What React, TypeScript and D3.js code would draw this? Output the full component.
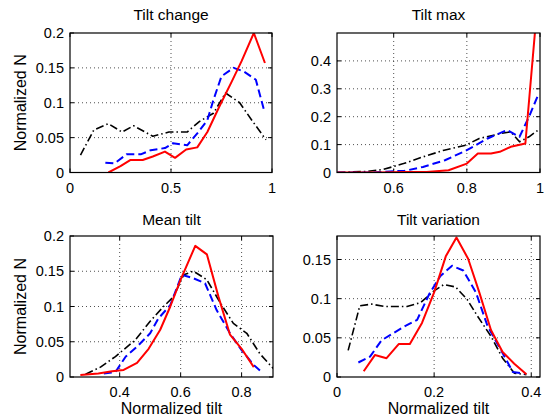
import React from "react";
import * as d3 from "d3";

type Pt = [number, number];

// Tilt change
const changeRed: Pt[] = [[0.19, 0], [0.25, 0.009], [0.3, 0.018], [0.36, 0.018], [0.41, 0.023], [0.47, 0.03], [0.52, 0.021], [0.575, 0.033], [0.63, 0.036], [0.68, 0.058], [0.74, 0.095], [0.8, 0.13], [0.85, 0.16], [0.91, 0.2], [0.965, 0.157]];
const changeBlue: Pt[] = [[0.175, 0.014], [0.22, 0.013], [0.28, 0.026], [0.35, 0.026], [0.4, 0.032], [0.47, 0.035], [0.51, 0.042], [0.58, 0.039], [0.63, 0.056], [0.68, 0.075], [0.71, 0.104], [0.75, 0.138], [0.81, 0.15], [0.86, 0.145], [0.92, 0.133], [0.96, 0.09]];
const changeBlack: Pt[] = [[0.052, 0.025], [0.118, 0.061], [0.19, 0.07], [0.257, 0.058], [0.315, 0.067], [0.41, 0.052], [0.49, 0.058], [0.58, 0.058], [0.64, 0.073], [0.71, 0.085], [0.77, 0.114], [0.84, 0.1], [0.9, 0.075], [0.97, 0.047]];

// Tilt max
const maxRed: Pt[] = [[0.446, 0], [0.56, 0], [0.63, 0.002], [0.69, 0.002], [0.75, 0.008], [0.8, 0.032], [0.83, 0.068], [0.866, 0.068], [0.89, 0.074], [0.92, 0.092], [0.96, 0.104], [0.99, 0.56]];
const maxBlue: Pt[] = [[0.446, 0], [0.54, 0], [0.59, 0.004], [0.63, 0.006], [0.68, 0.02], [0.74, 0.044], [0.8, 0.08], [0.857, 0.122], [0.91, 0.152], [0.944, 0.128], [0.97, 0.2], [0.995, 0.278]];
const maxBlack: Pt[] = [[0.446, 0], [0.527, 0.004], [0.572, 0.011], [0.627, 0.032], [0.68, 0.056], [0.738, 0.08], [0.797, 0.098], [0.834, 0.122], [0.894, 0.14], [0.92, 0.146], [0.944, 0.11], [0.97, 0.128], [0.995, 0.152]];

// Mean tilt
const meanRed: Pt[] = [[0.271, 0.003], [0.33, 0.005], [0.375, 0.008], [0.413, 0.01], [0.457, 0.02], [0.495, 0.04], [0.533, 0.067], [0.566, 0.1], [0.6, 0.138], [0.648, 0.186], [0.686, 0.174], [0.724, 0.114], [0.762, 0.06], [0.8, 0.04], [0.84, 0.014]];
const meanBlue: Pt[] = [[0.348, 0.005], [0.386, 0.007], [0.42, 0.029], [0.457, 0.043], [0.5, 0.062], [0.527, 0.083], [0.566, 0.102], [0.604, 0.145], [0.642, 0.14], [0.68, 0.133], [0.718, 0.095], [0.762, 0.062], [0.8, 0.038], [0.84, 0.017], [0.866, 0.007]];
const meanBlack: Pt[] = [[0.288, 0.004], [0.337, 0.014], [0.386, 0.029], [0.45, 0.052], [0.5, 0.079], [0.544, 0.1], [0.577, 0.114], [0.61, 0.145], [0.642, 0.15], [0.686, 0.138], [0.73, 0.105], [0.773, 0.076], [0.817, 0.062], [0.86, 0.033], [0.904, 0.012]];

// Tilt variation
const varRed: Pt[] = [[0.055, 0.0073], [0.078, 0.028], [0.102, 0.024], [0.127, 0.042], [0.15, 0.042], [0.175, 0.069], [0.2, 0.108], [0.224, 0.154], [0.246, 0.178], [0.27, 0.151], [0.293, 0.108], [0.317, 0.06], [0.341, 0.032], [0.365, 0.017], [0.39, 0.0034]];
const varBlue: Pt[] = [[0.044, 0.0185], [0.068, 0.026], [0.092, 0.047], [0.116, 0.056], [0.14, 0.065], [0.165, 0.073], [0.19, 0.106], [0.213, 0.129], [0.237, 0.142], [0.26, 0.136], [0.286, 0.108], [0.31, 0.065], [0.338, 0.034], [0.362, 0.0065], [0.386, 0.004]];
const varBlack: Pt[] = [[0.023, 0.034], [0.047, 0.091], [0.071, 0.093], [0.099, 0.09], [0.12, 0.09], [0.144, 0.09], [0.172, 0.095], [0.2, 0.11], [0.22, 0.118], [0.244, 0.115], [0.268, 0.099], [0.289, 0.078], [0.317, 0.052], [0.341, 0.024], [0.365, 0.005], [0.39, 0.003]];

const titles = ["Tilt change", "Tilt max", "Mean tilt", "Tilt variation"];
const xTicksAll = [[0, 0.5, 1], [0.6, 0.8, 1], [0.4, 0.6, 0.8], [0, 0.2, 0.4]];
const yTicksAll = [[0, 0.05, 0.1, 0.15, 0.2], [0, 0.1, 0.2, 0.3, 0.4], [0, 0.05, 0.1, 0.15, 0.2], [0, 0.05, 0.1, 0.15]];
const xDomains: Pt[] = [[0, 1], [0.445, 1], [0.237, 0.903], [0, 0.418]];
const yDomains: Pt[] = [[0, 0.2], [0, 0.5], [0, 0.2], [0, 0.18]];

const panels = [
  { series: [changeBlack, changeBlue, changeRed], box: [70, 33, 272, 172.5], xl: false, yl: true, tOff: 13 },
  { series: [maxBlack, maxBlue, maxRed], box: [337, 33, 540, 172.5], xl: false, yl: false, tOff: 13 },
  { series: [meanBlack, meanBlue, meanRed], box: [70, 236, 273, 377], xl: true, yl: true, tOff: 11 },
  { series: [varBlack, varBlue, varRed], box: [337, 236, 540, 377], xl: true, yl: false, tOff: 11 },
];

const styles = [
  { stroke: "#000", dash: "8,3,1.5,3", w: 1.6 },
  { stroke: "#0000ff", dash: "8,4", w: 2 },
  { stroke: "#ff0000", dash: null, w: 2 },
];

const font = "'Liberation Sans', Arial, Helvetica, sans-serif";

function Panel({ idx }: { idx: number }) {
  const p = panels[idx];
  const [x0, y0, x1, y1] = p.box;
  const x = d3.scaleLinear().domain(xDomains[idx]).range([x0, x1]);
  const y = d3.scaleLinear().domain(yDomains[idx]).range([y1, y0]);
  const line = d3.line<Pt>().x(d => x(d[0])).y(d => y(d[1]));
  const clipId = `clip${idx}`;
  return (
    <g>
      <clipPath id={clipId}>
        <rect x={x0} y={y0} width={x1 - x0} height={y1 - y0} />
      </clipPath>
      <rect x={x0} y={y0} width={x1 - x0} height={y1 - y0} fill="#fff" />
      {xTicksAll[idx].map(t => (
        <g key={"x" + t}>
          {x(t) > x0 + 1 && x(t) < x1 - 1 && (
            <line x1={x(t)} x2={x(t)} y1={y0} y2={y1} stroke="#222" strokeWidth={0.8} strokeDasharray="1,3" />
          )}
          <line x1={x(t)} x2={x(t)} y1={y1} y2={y1 - 4} stroke="#000" />
          <line x1={x(t)} x2={x(t)} y1={y0} y2={y0 + 4} stroke="#000" />
          <text x={x(t)} y={y1 + 20} textAnchor="middle" fontSize={14.5} fontFamily={font}>{String(t)}</text>
        </g>
      ))}
      {yTicksAll[idx].map(t => (
        <g key={"y" + t}>
          {y(t) > y0 + 1 && y(t) < y1 - 1 && (
            <line x1={x0} x2={x1} y1={y(t)} y2={y(t)} stroke="#222" strokeWidth={0.8} strokeDasharray="1,3" />
          )}
          <line x1={x0} x2={x0 + 4} y1={y(t)} y2={y(t)} stroke="#000" />
          <line x1={x1} x2={x1 - 4} y1={y(t)} y2={y(t)} stroke="#000" />
          <text x={x0 - 6} y={y(t) + 5} textAnchor="end" fontSize={14.5} fontFamily={font}>{String(t)}</text>
        </g>
      ))}
      <g clipPath={`url(#${clipId})`}>
        {p.series.map((s, i) => (
          <path
            key={i}
            d={line(s) || ""}
            fill="none"
            stroke={styles[i].stroke}
            strokeWidth={styles[i].w}
            strokeDasharray={styles[i].dash || undefined}
            strokeLinejoin="round"
          />
        ))}
      </g>
      <rect x={x0} y={y0} width={x1 - x0} height={y1 - y0} fill="none" stroke="#000" strokeWidth={1.2} />
      <text x={(x0 + x1) / 2} y={y0 - p.tOff} textAnchor="middle" fontSize={15.5} fontFamily={font}>{titles[idx]}</text>
      {p.xl && (
        <text x={(x0 + x1) / 2} y={y1 + 37} textAnchor="middle" fontSize={16} fontFamily={font}>Normalized tilt</text>
      )}
      {p.yl && (
        <text transform={`translate(26,${(y0 + y1) / 2}) rotate(-90)`} textAnchor="middle" fontSize={16} fontFamily={font}>Normalized N</text>
      )}
    </g>
  );
}

export default function App() {
  return (
    <svg width={548} height={419} style={{ position: "absolute", left: 0, top: 0, background: "#fff" }}>
      <rect width={548} height={419} fill="#fff" />
      {panels.map((_, i) => <Panel key={i} idx={i} />)}
    </svg>
  );
}
